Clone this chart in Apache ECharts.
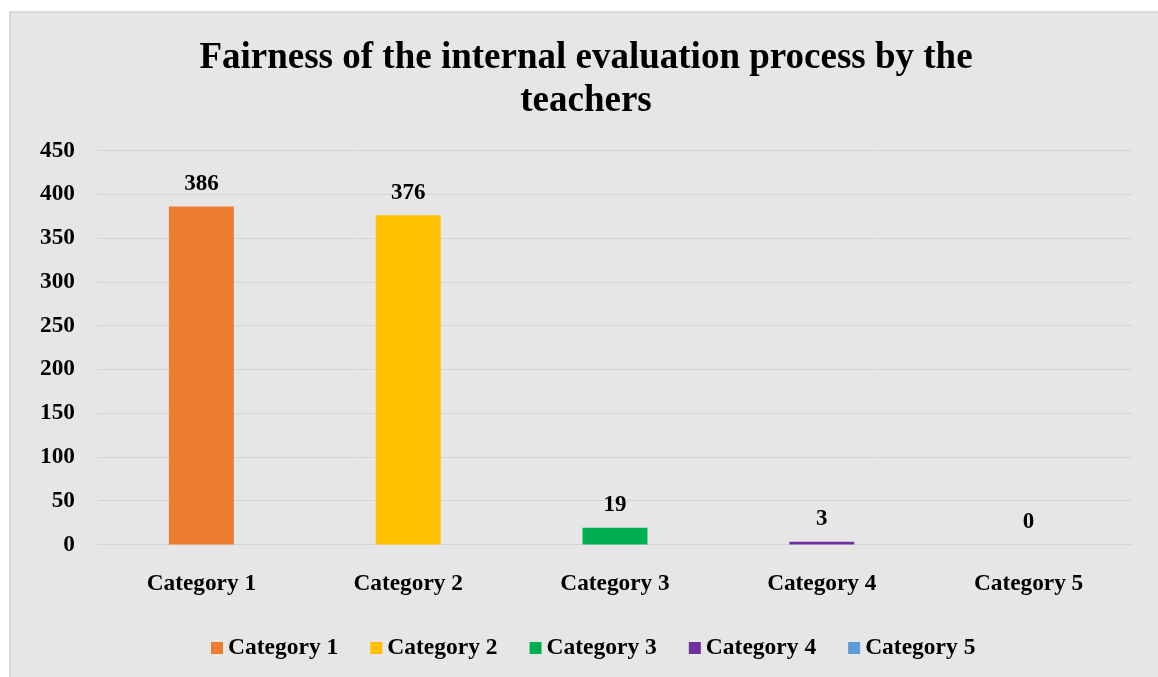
<!DOCTYPE html>
<html>
<head>
<meta charset="utf-8">
<script src="https://cdn.jsdelivr.net/npm/echarts@6/dist/echarts.min.js"></script>
<style>
  html, body { margin: 0; padding: 0; background: #fff; }
  #chart { width: 1158px; height: 677px; }
</style>
</head>
<body>
<div id="chart"></div>
<script>
"use strict";
// data
const categories = ["Category 1", "Category 2", "Category 3", "Category 4", "Category 5"];
const values = [386, 376, 19, 3, 0];
const colors = ["#ED7D31", "#FFC000", "#00B050", "#7030A0", "#5B9BD5"];
const yTicks = { min: 0, max: 450, interval: 50 };

const font = "'Liberation Serif', 'Times New Roman', serif";
const chart = echarts.init(document.getElementById("chart"));

// one series per category so the legend lists each; stacked so bars stay centred
const series = categories.map((name, i) => ({
  name, type: "bar", stack: "all", barWidth: "31.4%",
  itemStyle: { color: colors[i] },
  data: values.map((v, j) => (j === i ? v : null)),
  label: { show: true, position: "top", distance: 11, color: "#000",
    fontFamily: font, fontWeight: "bold", fontSize: 23 },
}));

chart.setOption({
  animation: false,
  backgroundColor: "#fff",
  graphic: [{ type: "rect", z: -10, silent: true,
    shape: { x: 10, y: 12, width: 1160, height: 700 },
    style: { fill: "#e6e6e6", stroke: "#d9d9d9", lineWidth: 2 } }],
  title: {
    text: "Fairness of the internal evaluation process by the\nteachers",
    left: 581, top: 32, textAlign: "center",
    textStyle: { fontFamily: font, fontWeight: "bold", fontSize: 37, lineHeight: 43, color: "#000" },
  },
  grid: { left: 98, right: 26, top: 150.5, bottom: 132.5 },
  legend: {
    bottom: 12, left: 206, icon: "rect", itemWidth: 12, itemHeight: 12, itemGap: 32,
    textStyle: { fontFamily: font, fontWeight: "bold", fontSize: 23.5, color: "#000" },
  },
  xAxis: {
    type: "category", data: categories,
    axisLine: { show: true, lineStyle: { color: "#d4d4d4", width: 1 } },
    axisTick: { show: false },
    axisLabel: { margin: 28, color: "#000", fontFamily: font, fontWeight: "bold", fontSize: 23.3 },
  },
  yAxis: {
    type: "value", min: yTicks.min, max: yTicks.max, interval: yTicks.interval,
    axisLine: { show: false }, axisTick: { show: false },
    splitLine: { lineStyle: { color: "#d4d4d4", width: 1 } },
    axisLabel: { margin: 23, color: "#000", fontFamily: font, fontWeight: "bold", fontSize: 23.3 },
  },
  series,
});
</script>
</body>
</html>
